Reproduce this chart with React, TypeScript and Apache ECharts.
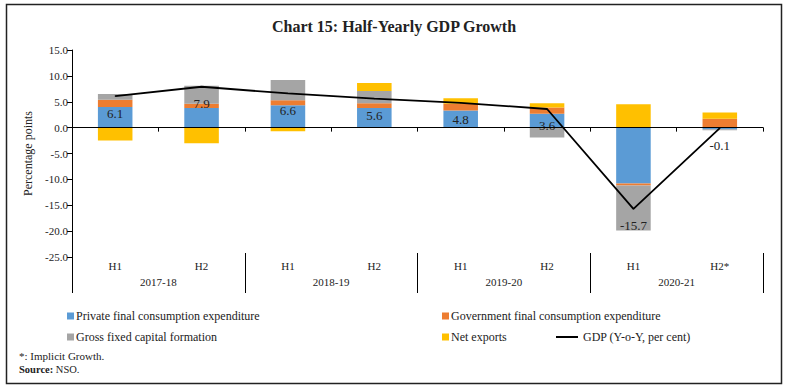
import React, { useEffect, useRef } from "react";
import * as echarts from "echarts";

const categories = ["H1", "H2", "H1", "H2", "H1", "H2", "H1", "H2*"];
const years = ["2017-18", "2018-19", "2019-20", "2020-21"];
const pfce = [4.0, 3.8, 4.3, 3.8, 3.3, 2.7, -10.8, -0.3];
const gfce = [1.4, 0.8, 1.0, 0.9, 1.3, 1.2, -0.4, 1.7];
const gfcf = [1.1, 3.5, 3.9, 2.4, 0.0, -1.9, -8.7, -0.2];
const netExports = [-2.5, -3.0, -0.7, 1.5, 1.1, 0.8, 4.5, 1.2];
const gdp = [6.1, 7.9, 6.6, 5.6, 4.8, 3.6, -15.7, -0.1];

const seriesNames = [
  "Private final consumption expenditure",
  "Government final consumption expenditure",
  "Gross fixed capital formation",
  "Net exports",
  "GDP (Y-o-Y, per cent)",
];
const colors = ["#5B9BD5", "#ED7D31", "#A5A5A5", "#FFC000", "#000000"];

const FONT = "Liberation Serif";

export default function App() {
  const ref = useRef<HTMLDivElement>(null);
  useEffect(() => {
    if (!ref.current) return;
    const chart = echarts.init(ref.current, undefined, { renderer: "svg" });
    const barData = [pfce, gfce, gfcf, netExports];
    const legendText = { fontFamily: FONT, fontSize: 12, color: "#222", padding: [0, 0, 0, -3] };
    const sq = { itemWidth: 7, itemHeight: 7, itemGap: 0, textStyle: legendText, icon: "rect" };
    const option: any = {
      animation: false,
      backgroundColor: "#fff",
      textStyle: { fontFamily: FONT },
      title: {
        text: "Chart 15: Half-Yearly GDP Growth",
        left: "center",
        top: 13,
        textStyle: { fontFamily: FONT, fontSize: 16, fontWeight: "bold", color: "#222" },
      },
      grid: { left: 72, right: 25, top: 50, bottom: 133, containLabel: false },
      legend: [
        { data: [seriesNames[0]], left: 62, top: 305, ...sq },
        { data: [seriesNames[1]], left: 437, top: 305, ...sq },
        { data: [seriesNames[2]], left: 62, top: 326, ...sq },
        { data: [seriesNames[3]], left: 437, top: 326, ...sq },
        {
          data: [seriesNames[4]],
          left: 551,
          top: 326,
          itemWidth: 22,
          itemHeight: 2,
          itemGap: 0,
          icon: "rect",
          textStyle: { fontFamily: FONT, fontSize: 12, color: "#222" },
        },
      ],
      xAxis: [
        {
          type: "category",
          data: categories,
          position: "bottom",
          axisLine: { onZero: true, lineStyle: { color: "#000", width: 1.2 } },
          axisTick: { show: true, length: 4, lineStyle: { color: "#000" } },
          axisLabel: { show: false },
          z: 5,
        },
        {
          type: "category",
          data: categories,
          position: "bottom",
          axisLine: { show: false, onZero: false },
          axisTick: { show: false },
          axisLabel: { margin: 3, fontFamily: FONT, fontSize: 11, color: "#222" },
        },
        {
          type: "category",
          data: years,
          position: "bottom",
          offset: 36,
          axisLine: { show: false, onZero: false },
          axisTick: { show: true, inside: true, length: 40, lineStyle: { color: "#000" } },
          axisLabel: { margin: -17, fontFamily: FONT, fontSize: 11, color: "#222" },
        },
      ],
      yAxis: {
        type: "value",
        min: -25,
        max: 15,
        interval: 5,
        name: "Percentage points",
        nameLocation: "middle",
        nameGap: 36,
        nameTextStyle: { fontFamily: FONT, fontSize: 12, color: "#222" },
        axisLine: { show: true, lineStyle: { color: "#000" } },
        axisTick: { show: true, length: 5, lineStyle: { color: "#000" } },
        axisLabel: {
          margin: 4,
          fontFamily: FONT,
          fontSize: 11,
          color: "#222",
          formatter: (v: number) => v.toFixed(1),
        },
        splitLine: { show: false },
      },
      series: [
        ...barData.map((d, i) => ({
          name: seriesNames[i],
          type: "bar",
          stack: "contrib",
          xAxisIndex: 0,
          barWidth: "40%",
          data: d,
          itemStyle: { color: colors[i] },
        })),
        {
          name: seriesNames[4],
          type: "line",
          xAxisIndex: 0,
          data: gdp,
          symbol: "circle",
          symbolSize: 1,
          itemStyle: { color: "#000" },
          lineStyle: { color: "#000", width: 1.8 },
          label: {
            show: true,
            position: "bottom",
            distance: 10,
            fontFamily: FONT,
            fontSize: 13,
            color: "#222",
            formatter: (p: any) => Number(p.value).toFixed(1),
          },
          z: 4,
        },
      ],
      graphic: [
        {
          type: "rect",
          shape: { x: 6.5, y: 4.5, width: 775, height: 379 },
          style: { fill: "none", stroke: "#222", lineWidth: 1.5 },
          silent: true,
        },
        {
          type: "text",
          left: 19,
          top: 350,
          style: { text: "*: Implicit Growth.", font: `11px "${FONT}"`, fill: "#222" },
        },
        {
          type: "text",
          left: 19,
          top: 364,
          style: {
            text: "{b|Source:} NSO.",
            font: `10.5px "${FONT}"`,
            fill: "#222",
            rich: { b: { fontWeight: "bold", fontFamily: FONT, fontSize: 10.5, fill: "#222" } },
          },
        },
      ],
    };
    chart.setOption(option);
    return () => chart.dispose();
  }, []);
  return (
    <div
      ref={ref}
      style={{ position: "absolute", left: 0, top: 0, width: 788, height: 390 }}
    />
  );
}
